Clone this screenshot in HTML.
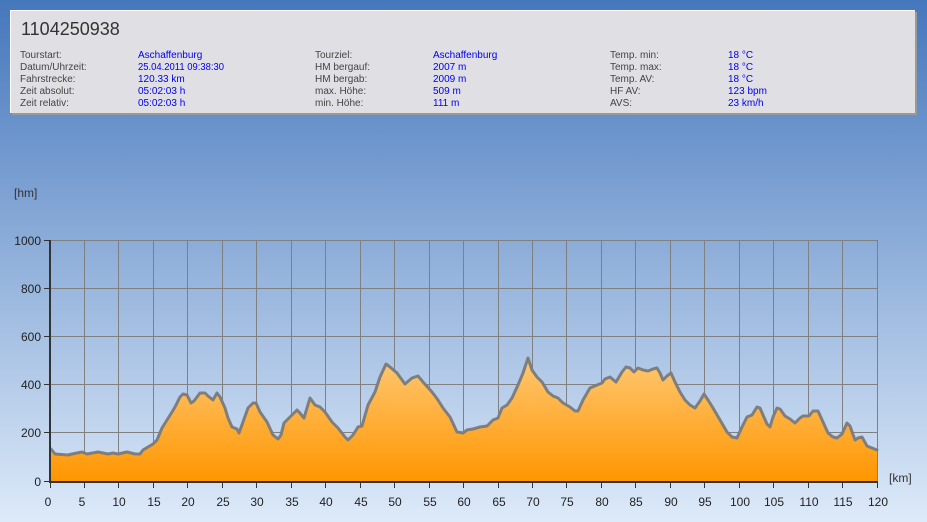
<!DOCTYPE html>
<html>
<head>
<meta charset="utf-8">
<style>
  html,body{margin:0;padding:0;}
  body{width:927px;height:522px;overflow:hidden;}
  svg{display:block;}
  text{font-family:"Liberation Sans", Arial, sans-serif;}
</style>
</head>
<body>
<svg width="927" height="522" viewBox="0 0 927 522" xmlns="http://www.w3.org/2000/svg">
  <defs>
    <linearGradient id="bg" x1="0" y1="0" x2="0" y2="522" gradientUnits="userSpaceOnUse">
      <stop offset="0" stop-color="#4577bc"/>
      <stop offset="1" stop-color="#ddeaf9"/>
    </linearGradient>
    <linearGradient id="fill" x1="0" y1="355" x2="0" y2="482" gradientUnits="userSpaceOnUse">
      <stop offset="0" stop-color="#ffc874"/>
      <stop offset="1" stop-color="#ff9600"/>
    </linearGradient>
  </defs>

  <!-- background -->
  <rect x="0" y="0" width="927" height="522" fill="url(#bg)"/>

  <!-- header panel -->
  <rect x="12" y="12" width="905" height="103" fill="#9a9a9a"/>
  <rect x="10" y="10" width="905" height="103" fill="#ffffff"/>
  <rect x="11" y="11" width="904" height="102" fill="#e0dfe4"/>

  <text x="21" y="35" font-size="18" fill="#333333">1104250938</text>

  <g font-size="10" fill="#444444">
    <text x="20" y="58">Tourstart:</text>
    <text x="20" y="70">Datum/Uhrzeit:</text>
    <text x="20" y="82">Fahrstrecke:</text>
    <text x="20" y="94">Zeit absolut:</text>
    <text x="20" y="106">Zeit relativ:</text>

    <text x="315" y="58">Tourziel:</text>
    <text x="315" y="70">HM bergauf:</text>
    <text x="315" y="82">HM bergab:</text>
    <text x="315" y="94">max. Höhe:</text>
    <text x="315" y="106">min. Höhe:</text>

    <text x="610" y="58">Temp. min:</text>
    <text x="610" y="70">Temp. max:</text>
    <text x="610" y="82">Temp. AV:</text>
    <text x="610" y="94">HF AV:</text>
    <text x="610" y="106">AVS:</text>
  </g>
  <g font-size="10" fill="#0000ee">
    <text x="138" y="58">Aschaffenburg</text>
    <text x="138" y="70" textLength="86" lengthAdjust="spacingAndGlyphs">25.04.2011 09:38:30</text>
    <text x="138" y="82">120.33 km</text>
    <text x="138" y="94">05:02:03 h</text>
    <text x="138" y="106">05:02:03 h</text>

    <text x="433" y="58">Aschaffenburg</text>
    <text x="433" y="70">2007 m</text>
    <text x="433" y="82">2009 m</text>
    <text x="433" y="94">509 m</text>
    <text x="433" y="106">111 m</text>

    <text x="728" y="58">18 °C</text>
    <text x="728" y="70">18 °C</text>
    <text x="728" y="82">18 °C</text>
    <text x="728" y="94">123 bpm</text>
    <text x="728" y="106">23 km/h</text>
  </g>

  <!-- axis unit labels -->
  <text x="14" y="197" font-size="12" fill="#333333">[hm]</text>
  <text x="889" y="482" font-size="12" fill="#333333">[km]</text>

  <!-- grid -->
  <g stroke="#808080" stroke-width="1" fill="none">
    <line x1="50" y1="240.5" x2="877" y2="240.5"/>
    <line x1="50" y1="288.5" x2="877" y2="288.5"/>
    <line x1="50" y1="336.5" x2="877" y2="336.5"/>
    <line x1="50" y1="384.5" x2="877" y2="384.5"/>
    <line x1="50" y1="432.5" x2="877" y2="432.5"/>

    <line x1="84.5" y1="240" x2="84.5" y2="481"/>
    <line x1="118.5" y1="240" x2="118.5" y2="481"/>
    <line x1="153.5" y1="240" x2="153.5" y2="481"/>
    <line x1="187.5" y1="240" x2="187.5" y2="481"/>
    <line x1="222.5" y1="240" x2="222.5" y2="481"/>
    <line x1="256.5" y1="240" x2="256.5" y2="481"/>
    <line x1="291.5" y1="240" x2="291.5" y2="481"/>
    <line x1="325.5" y1="240" x2="325.5" y2="481"/>
    <line x1="360.5" y1="240" x2="360.5" y2="481"/>
    <line x1="394.5" y1="240" x2="394.5" y2="481"/>
    <line x1="429.5" y1="240" x2="429.5" y2="481"/>
    <line x1="463.5" y1="240" x2="463.5" y2="481"/>
    <line x1="498.5" y1="240" x2="498.5" y2="481"/>
    <line x1="532.5" y1="240" x2="532.5" y2="481"/>
    <line x1="566.5" y1="240" x2="566.5" y2="481"/>
    <line x1="601.5" y1="240" x2="601.5" y2="481"/>
    <line x1="635.5" y1="240" x2="635.5" y2="481"/>
    <line x1="670.5" y1="240" x2="670.5" y2="481"/>
    <line x1="704.5" y1="240" x2="704.5" y2="481"/>
    <line x1="739.5" y1="240" x2="739.5" y2="481"/>
    <line x1="773.5" y1="240" x2="773.5" y2="481"/>
    <line x1="808.5" y1="240" x2="808.5" y2="481"/>
    <line x1="842.5" y1="240" x2="842.5" y2="481"/>
    <line x1="877.5" y1="240" x2="877.5" y2="481"/>
  </g>

  <!-- elevation area -->
  <polygon fill="url(#fill)" points="51,481 51,449 55,454 68,455 72,454 82,452 87,454 98,452 108,454 113,453 118,454 127,452 135,454 140,454 143,450 148,447 153,444 157,440 162,428 167,420 172,412 175,407 180,397 183,394 187,395 191,403 194,401 197,397 200,393 205,393 208,396 213,400 217,393 220,397 225,408 228,418 232,427 237,429 239,433 243,422 248,408 253,403 256,403 260,412 267,422 273,435 278,439 281,435 284,423 288,419 292,415 297,410 299,412 304,418 310,398 315,405 320,407 325,412 332,422 338,428 345,437 348,440 353,435 358,427 362,426 368,405 375,392 380,377 386,364 390,367 397,373 405,384 412,378 418,376 423,382 432,392 438,400 443,408 450,417 457,432 463,433 467,430 473,429 480,427 487,426 493,420 498,418 502,408 507,405 512,398 518,385 523,373 528,358 532,370 537,377 542,382 548,392 553,396 558,398 563,403 570,407 575,411 578,411 583,400 590,388 597,385 602,383 605,379 610,377 616,382 622,372 626,367 630,368 634,372 638,368 643,370 648,371 653,369 657,368 660,373 663,380 667,376 671,373 675,382 680,392 685,400 690,405 695,408 700,401 704,394 708,400 713,408 720,420 727,432 732,437 737,438 742,427 747,417 752,415 757,407 760,408 763,415 767,424 770,427 773,417 777,408 780,409 785,416 790,419 795,423 800,418 803,416 809,416 813,411 818,411 823,422 828,433 833,437 837,438 842,434 847,423 850,426 855,440 858,438 862,437 867,446 872,448 877,450 877,481"/>
  <polyline fill="none" stroke="#7e7e7e" stroke-width="3" stroke-linejoin="round" stroke-linecap="round" points="51,449 55,454 68,455 72,454 82,452 87,454 98,452 108,454 113,453 118,454 127,452 135,454 140,454 143,450 148,447 153,444 157,440 162,428 167,420 172,412 175,407 180,397 183,394 187,395 191,403 194,401 197,397 200,393 205,393 208,396 213,400 217,393 220,397 225,408 228,418 232,427 237,429 239,433 243,422 248,408 253,403 256,403 260,412 267,422 273,435 278,439 281,435 284,423 288,419 292,415 297,410 299,412 304,418 310,398 315,405 320,407 325,412 332,422 338,428 345,437 348,440 353,435 358,427 362,426 368,405 375,392 380,377 386,364 390,367 397,373 405,384 412,378 418,376 423,382 432,392 438,400 443,408 450,417 457,432 463,433 467,430 473,429 480,427 487,426 493,420 498,418 502,408 507,405 512,398 518,385 523,373 528,358 532,370 537,377 542,382 548,392 553,396 558,398 563,403 570,407 575,411 578,411 583,400 590,388 597,385 602,383 605,379 610,377 616,382 622,372 626,367 630,368 634,372 638,368 643,370 648,371 653,369 657,368 660,373 663,380 667,376 671,373 675,382 680,392 685,400 690,405 695,408 700,401 704,394 708,400 713,408 720,420 727,432 732,437 737,438 742,427 747,417 752,415 757,407 760,408 763,415 767,424 770,427 773,417 777,408 780,409 785,416 790,419 795,423 800,418 803,416 809,416 813,411 818,411 823,422 828,433 833,437 837,438 842,434 847,423 850,426 855,440 858,438 862,437 867,446 872,448 877,450"/>

  <!-- axes -->
  <g stroke="#333333" fill="none">
    <line x1="50" y1="240" x2="50" y2="483" stroke-width="2"/>
    <line x1="49" y1="482" x2="878" y2="482" stroke-width="2"/>
    <!-- y ticks -->
    <line x1="44" y1="240.5" x2="50" y2="240.5" stroke-width="1"/>
    <line x1="44" y1="288.5" x2="50" y2="288.5" stroke-width="1"/>
    <line x1="44" y1="336.5" x2="50" y2="336.5" stroke-width="1"/>
    <line x1="44" y1="384.5" x2="50" y2="384.5" stroke-width="1"/>
    <line x1="44" y1="432.5" x2="50" y2="432.5" stroke-width="1"/>
    <line x1="44" y1="481.5" x2="50" y2="481.5" stroke-width="1"/>
  </g>
  <g stroke="#333333" stroke-width="1">
    <line x1="50.5" y1="482" x2="50.5" y2="488"/>
    <line x1="84.5" y1="482" x2="84.5" y2="488"/>
    <line x1="118.5" y1="482" x2="118.5" y2="488"/>
    <line x1="153.5" y1="482" x2="153.5" y2="488"/>
    <line x1="187.5" y1="482" x2="187.5" y2="488"/>
    <line x1="222.5" y1="482" x2="222.5" y2="488"/>
    <line x1="256.5" y1="482" x2="256.5" y2="488"/>
    <line x1="291.5" y1="482" x2="291.5" y2="488"/>
    <line x1="325.5" y1="482" x2="325.5" y2="488"/>
    <line x1="360.5" y1="482" x2="360.5" y2="488"/>
    <line x1="394.5" y1="482" x2="394.5" y2="488"/>
    <line x1="429.5" y1="482" x2="429.5" y2="488"/>
    <line x1="463.5" y1="482" x2="463.5" y2="488"/>
    <line x1="498.5" y1="482" x2="498.5" y2="488"/>
    <line x1="532.5" y1="482" x2="532.5" y2="488"/>
    <line x1="566.5" y1="482" x2="566.5" y2="488"/>
    <line x1="601.5" y1="482" x2="601.5" y2="488"/>
    <line x1="635.5" y1="482" x2="635.5" y2="488"/>
    <line x1="670.5" y1="482" x2="670.5" y2="488"/>
    <line x1="704.5" y1="482" x2="704.5" y2="488"/>
    <line x1="739.5" y1="482" x2="739.5" y2="488"/>
    <line x1="773.5" y1="482" x2="773.5" y2="488"/>
    <line x1="808.5" y1="482" x2="808.5" y2="488"/>
    <line x1="842.5" y1="482" x2="842.5" y2="488"/>
    <line x1="877.5" y1="482" x2="877.5" y2="488"/>
  </g>

  <!-- y labels -->
  <g font-size="12" fill="#222222" text-anchor="end">
    <text x="41" y="245">1000</text>
    <text x="41" y="293">800</text>
    <text x="41" y="341">600</text>
    <text x="41" y="389">400</text>
    <text x="41" y="437">200</text>
    <text x="41" y="486">0</text>
  </g>

  <!-- x labels -->
  <g font-size="12" fill="#222222" text-anchor="middle">
    <text x="48" y="506">0</text>
    <text x="82" y="506">5</text>
    <text x="119" y="506">10</text>
    <text x="154" y="506">15</text>
    <text x="188" y="506">20</text>
    <text x="223" y="506">25</text>
    <text x="257" y="506">30</text>
    <text x="292" y="506">35</text>
    <text x="326" y="506">40</text>
    <text x="361" y="506">45</text>
    <text x="395" y="506">50</text>
    <text x="430" y="506">55</text>
    <text x="464" y="506">60</text>
    <text x="499" y="506">65</text>
    <text x="533" y="506">70</text>
    <text x="567" y="506">75</text>
    <text x="602" y="506">80</text>
    <text x="636" y="506">85</text>
    <text x="671" y="506">90</text>
    <text x="705" y="506">95</text>
    <text x="740" y="506">100</text>
    <text x="774" y="506">105</text>
    <text x="809" y="506">110</text>
    <text x="843" y="506">115</text>
    <text x="878" y="506">120</text>
  </g>
</svg>
</body>
</html>
